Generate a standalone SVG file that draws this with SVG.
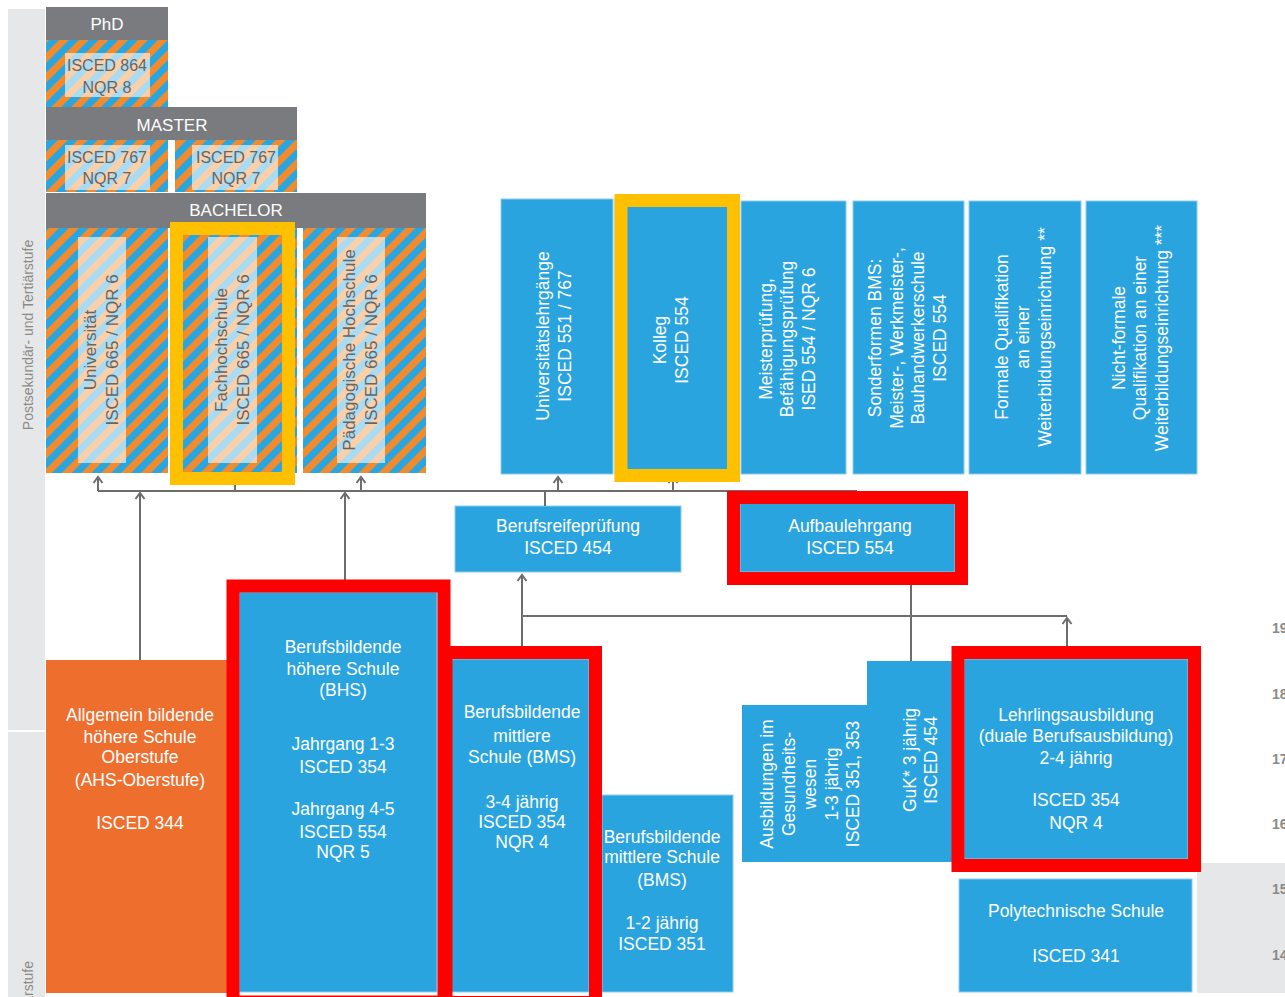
<svg xmlns="http://www.w3.org/2000/svg" width="1285" height="997" viewBox="0 0 1285 997">
<defs>
<pattern id="stripes" patternUnits="userSpaceOnUse" width="14" height="14" patternTransform="rotate(45)">
<rect width="7" height="14" fill="#f28a2e"/><rect x="7" width="7" height="14" fill="#29a6e0"/>
</pattern>
<marker id="arr" viewBox="-8 -6 10 12" refX="0" refY="0" markerWidth="10" markerHeight="12" markerUnits="userSpaceOnUse" orient="auto">
<path d="M-6,-4.5 L0,0 L-6,4.5" fill="none" stroke="#6d6d6d" stroke-width="2"/>
</marker>
<style>
.band{fill:#e6e7e8}
.hdr{fill:#7a7b7e}
.str{fill:url(#stripes)}
.pale{fill:#fff;fill-opacity:.6}
.blue{fill:#29a4de;stroke:#8ecbef;stroke-width:1}
.orange{fill:#ee6e2d}
text{font-family:"Liberation Sans",Arial,sans-serif;font-size:17.5px;text-anchor:middle}
.w{fill:#fff}
.dk{fill:#666;font-size:16px}
.hd{fill:#fff;font-size:17px}
.side{fill:#8a8a8a;font-size:14px}
.age{fill:#8a8a8a;font-size:14px;text-anchor:start;font-weight:bold}
.conn path{fill:none;stroke:#6d6d6d;stroke-width:2}
.red{fill:none;stroke:#ff0000;stroke-width:13}
.yel{fill:none;stroke:#ffc000;stroke-width:13}
</style>
</defs>
<rect width="1285" height="997" fill="#fff"/>

<!-- side bands -->
<g id="left-band">
<rect class="band" x="8" y="9" width="37" height="988"/>
<line x1="8" y1="731" x2="48" y2="731" stroke="#fff" stroke-width="2"/>
<text class="side" transform="translate(33,335) rotate(-90)">Postsekundär- und Tertiärstufe</text>
<text class="side" transform="translate(33,961) rotate(-90)" style="text-anchor:end">Sekundarstufe</text>
</g>
<g id="right-band">
<rect class="band" x="1197" y="863" width="88" height="130"/>
<text class="age" x="1272" y="633">19</text>
<text class="age" x="1272" y="699">18</text>
<text class="age" x="1272" y="764">17</text>
<text class="age" x="1272" y="829">16</text>
<text class="age" x="1272" y="894">15</text>
<text class="age" x="1272" y="960">14</text>
</g>

<!-- PhD -->
<g id="phd">
<rect class="hdr" x="46" y="7" width="122" height="33"/>
<text class="hd" x="107" y="30">PhD</text>
<rect class="str" x="46" y="40" width="122" height="67"/>
<rect class="pale" x="65" y="53" width="85" height="44"/>
<text class="dk" x="107" y="71">ISCED 864</text>
<text class="dk" x="107" y="93">NQR 8</text>
</g>

<!-- Master -->
<g id="master">
<rect class="hdr" x="46" y="107" width="251" height="33"/>
<text class="hd" x="172" y="131">MASTER</text>
<rect class="str" x="46" y="140" width="122" height="52"/>
<rect class="pale" x="65" y="145" width="85" height="45"/>
<text class="dk" x="107" y="163">ISCED 767</text>
<text class="dk" x="107" y="184">NQR 7</text>
<rect class="str" x="175" y="140" width="122" height="52"/>
<rect class="pale" x="192" y="145" width="86" height="45"/>
<text class="dk" x="236" y="163">ISCED 767</text>
<text class="dk" x="236" y="184">NQR 7</text>
</g>

<!-- Bachelor -->
<g id="bachelor">
<rect class="hdr" x="46" y="193" width="380" height="35"/>
<text class="hd" x="236" y="216">BACHELOR</text>
</g>
<g id="universitaet">
<rect class="str" x="46" y="228" width="122" height="245"/>
<rect class="pale" x="78" y="237" width="48" height="226"/>
<text class="dk" style="font-size:17px" transform="translate(101,350) rotate(-90)"><tspan x="0" y="-5">Universität</tspan><tspan x="0" y="17">ISCED 665 / NQR 6</tspan></text>
</g>
<g id="fachhochschule">
<rect class="str" x="173" y="228" width="124" height="245"/>
<rect class="pale" x="208" y="237" width="49" height="226"/>
<text class="dk" style="font-size:17px" transform="translate(232,350) rotate(-90)"><tspan x="0" y="-5">Fachhochschule</tspan><tspan x="0" y="17">ISCED 665 / NQR 6</tspan></text>
</g>
<g id="paedagogische">
<rect class="str" x="303" y="228" width="123" height="245"/>
<rect class="pale" x="337" y="237" width="48" height="226"/>
<text class="dk" style="font-size:17px" transform="translate(360,350) rotate(-90)"><tspan x="0" y="-5">Pädagogische Hochschule</tspan><tspan x="0" y="17">ISCED 665 / NQR 6</tspan></text>
</g>

<!-- top blue boxes -->
<g id="universitaetslehrgaenge">
<rect class="blue" x="501" y="199" width="112" height="275"/>
<text class="w" transform="translate(554,336) rotate(-90)"><tspan x="0" y="-5">Universitätslehrgänge</tspan><tspan x="0" y="17">ISCED 551 / 767</tspan></text>
</g>
<g id="kolleg">
<rect class="blue" x="615" y="199" width="124" height="275"/>
<text class="w" transform="translate(671,340) rotate(-90)"><tspan x="0" y="-5">Kolleg</tspan><tspan x="0" y="17">ISCED 554</tspan></text>
</g>
<g id="meisterpruefung">
<rect class="blue" x="741" y="201" width="105" height="273"/>
<text class="w" transform="translate(787,339) rotate(-90)"><tspan x="0" y="-15.5">Meisterprüfung,</tspan><tspan x="0" y="6">Befähigungsprüfung</tspan><tspan x="0" y="27.5">ISED 554 / NQR 6</tspan></text>
</g>
<g id="sonderformen">
<rect class="blue" x="853" y="201" width="111" height="273"/>
<text class="w" transform="translate(907,338) rotate(-90)"><tspan x="0" y="-26">Sonderformen BMS:</tspan><tspan x="0" y="-4.5">Meister-, Werkmeister-,</tspan><tspan x="0" y="17">Bauhandwerkerschule</tspan><tspan x="0" y="38.5">ISCED 554</tspan></text>
</g>
<g id="formale">
<rect class="blue" x="969" y="201" width="112" height="273"/>
<text class="w" transform="translate(1023,337) rotate(-90)"><tspan x="0" y="-15.5">Formale Qualifikation</tspan><tspan x="0" y="6">an einer</tspan><tspan x="0" y="27.5">Weiterbildungseinrichtung **</tspan></text>
</g>
<g id="nichtformale">
<rect class="blue" x="1086" y="201" width="111" height="273"/>
<text class="w" transform="translate(1140,338) rotate(-90)"><tspan x="0" y="-15.5">Nicht-formale</tspan><tspan x="0" y="6">Qualifikation an einer</tspan><tspan x="0" y="27.5">Weiterbildungseinrichtung ***</tspan></text>
</g>

<!-- middle boxes -->
<g id="berufsreifepruefung">
<rect class="blue" x="455" y="506" width="226" height="66"/>
<text class="w" x="568" y="532">Berufsreifeprüfung</text>
<text class="w" x="568" y="554">ISCED 454</text>
</g>
<g id="aufbaulehrgang">
<rect class="blue" x="740" y="503" width="215" height="69"/>
<text class="w" x="850" y="532">Aufbaulehrgang</text>
<text class="w" x="850" y="554">ISCED 554</text>
</g>

<!-- lower boxes -->
<g id="ahs">
<rect class="orange" x="46" y="660" width="182" height="333"/>
<text class="w" x="140" y="721">Allgemein bildende</text>
<text class="w" x="140" y="743">höhere Schule</text>
<text class="w" x="140" y="763">Oberstufe</text>
<text class="w" x="140" y="786">(AHS-Oberstufe)</text>
<text class="w" x="140" y="829">ISCED 344</text>
</g>
<g id="bhs">
<rect class="blue" x="239" y="592" width="198" height="400"/>
<text class="w" x="343" y="653">Berufsbildende</text>
<text class="w" x="343" y="675">höhere Schule</text>
<text class="w" x="343" y="696">(BHS)</text>
<text class="w" x="343" y="750">Jahrgang 1-3</text>
<text class="w" x="343" y="773">ISCED 354</text>
<text class="w" x="343" y="815">Jahrgang 4-5</text>
<text class="w" x="343" y="838">ISCED 554</text>
<text class="w" x="343" y="858">NQR 5</text>
</g>
<g id="bms34">
<rect class="blue" x="451" y="659" width="138" height="333"/>
<text class="w" x="522" y="718">Berufsbildende</text>
<text class="w" x="522" y="742">mittlere</text>
<text class="w" x="522" y="763">Schule (BMS)</text>
<text class="w" x="522" y="808">3-4 jährig</text>
<text class="w" x="522" y="828">ISCED 354</text>
<text class="w" x="522" y="848">NQR 4</text>
</g>
<g id="bms12">
<rect class="blue" x="602" y="795" width="131" height="197"/>
<text class="w" x="662" y="843">Berufsbildende</text>
<text class="w" x="662" y="863">mittlere Schule</text>
<text class="w" x="662" y="886">(BMS)</text>
<text class="w" x="662" y="929">1-2 jährig</text>
<text class="w" x="662" y="950">ISCED 351</text>
</g>
<g id="gesundheit">
<rect x="742" y="705" width="126" height="157" fill="#29a4de"/>
<text class="w" transform="translate(810,784) rotate(-90)"><tspan x="0" y="-37">Ausbildungen im</tspan><tspan x="0" y="-15.5">Gesundheits-</tspan><tspan x="0" y="6">wesen</tspan><tspan x="0" y="27.5">1-3 jährig</tspan><tspan x="0" y="49">ISCED 351, 353</tspan></text>
</g>
<g id="guk">
<rect x="867" y="661" width="90" height="201" fill="#29a4de"/>
<text class="w" transform="translate(920,760) rotate(-90)"><tspan x="0" y="-4.5">GuK* 3 jährig</tspan><tspan x="0" y="16.5">ISCED 454</tspan></text>
</g>
<g id="lehrling">
<rect class="blue" x="964" y="659" width="224" height="200"/>
<text class="w" x="1076" y="721">Lehrlingsausbildung</text>
<text class="w" x="1076" y="742">(duale Berufsausbildung)</text>
<text class="w" x="1076" y="764">2-4 jährig</text>
<text class="w" x="1076" y="806">ISCED 354</text>
<text class="w" x="1076" y="829">NQR 4</text>
</g>
<g id="polytechnische">
<rect class="blue" x="959" y="879" width="233" height="113"/>
<text class="w" x="1076" y="917">Polytechnische Schule</text>
<text class="w" x="1076" y="962">ISCED 341</text>
</g>

<!-- connectors -->
<g id="connectors" class="conn">
<path d="M98,491 H857"/>
<path d="M140,660 V493" marker-end="url(#arr)"/>
<path d="M345,592 V493" marker-end="url(#arr)"/>
<path d="M98,491 V477" marker-end="url(#arr)"/>
<path d="M235,491 V477" marker-end="url(#arr)"/>
<path d="M361,491 V477" marker-end="url(#arr)"/>
<path d="M558,491 V477" marker-end="url(#arr)"/>
<path d="M673,491 V477" marker-end="url(#arr)"/>
<path d="M545,491 V506"/>
<path d="M857,491 V503"/>
<path d="M522,659 V575" marker-end="url(#arr)"/>
<path d="M522,616 H1067"/>
<path d="M1067,659 V618" marker-end="url(#arr)"/>
<path d="M911,572 V661"/>
</g>

<!-- highlight frames -->
<g id="highlights">
<rect class="yel" x="176.5" y="228.5" width="112" height="250"/>
<rect class="yel" x="621" y="200.5" width="112.5" height="275"/>
<rect class="red" x="733.5" y="497.5" width="228" height="81"/>
<rect class="red" x="233" y="586" width="211" height="416"/>
<rect class="red" x="446" y="652.5" width="149.5" height="350"/>
<rect class="red" x="958" y="652.5" width="236.5" height="213"/>
</g>
</svg>
